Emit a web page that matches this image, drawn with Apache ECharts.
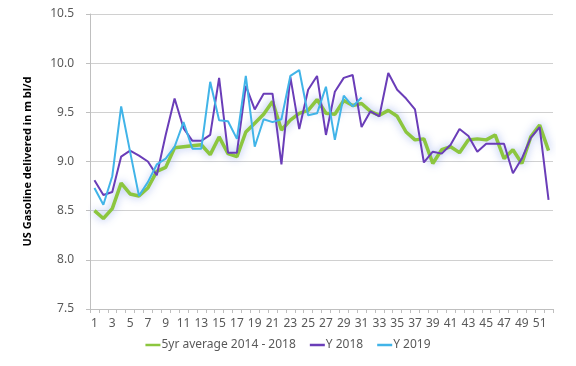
<!DOCTYPE html>
<html>
<head>
<meta charset="utf-8">
<script src="https://cdn.jsdelivr.net/npm/echarts@6/dist/echarts.min.js"></script>
<style>html,body{margin:0;padding:0;background:#fff}#c{width:576px;height:366px}</style>
</head>
<body>
<div id="c"></div>
<script>
const weeks = Array.from({length: 52}, (_, i) => String(i + 1));
const avg5yr = [8.50,8.42,8.52,8.78,8.67,8.65,8.73,8.90,8.94,9.14,9.15,9.16,9.17,9.07,9.25,9.08,9.05,9.30,
  9.39,9.48,9.61,9.32,9.42,9.49,9.52,9.63,9.49,9.48,9.62,9.57,9.59,9.51,9.47,9.52,9.46,9.30,
  9.22,9.23,8.98,9.12,9.15,9.09,9.22,9.23,9.22,9.27,9.03,9.12,8.98,9.25,9.37,9.11];
const y2018 = [8.81,8.66,8.69,9.05,9.11,9.06,9.00,8.86,9.27,9.64,9.34,9.21,9.21,9.27,9.85,9.09,9.09,9.77,
  9.53,9.69,9.69,8.97,9.86,9.33,9.73,9.87,9.27,9.71,9.85,9.88,9.35,9.51,9.46,9.90,9.73,9.64,
  9.53,8.99,9.10,9.08,9.17,9.33,9.26,9.10,9.18,9.18,9.18,8.88,9.03,9.24,9.35,8.61];
const y2019 = [8.73,8.56,8.85,9.56,9.10,8.65,8.79,8.97,9.03,9.15,9.40,9.13,9.13,9.81,9.42,9.41,9.23,9.87,
  9.15,9.43,9.40,9.43,9.87,9.93,9.47,9.49,9.76,9.22,9.67,9.56,9.65];
const yTicks = [7.5, 8.0, 8.5, 9.0, 9.5, 10.0, 10.5];

const font = 'Noto Sans';
const chart = echarts.init(document.getElementById('c'));
chart.setOption({
  animation: false,
  textStyle: {fontFamily: font},
  grid: {left: 90, right: 23, top: 14, bottom: 57},
  legend: {
    bottom: 10, left: 'center',
    icon: 'rect', itemWidth: 15, itemHeight: 2.5, itemGap: 14,
    textStyle: {color: '#595959', fontSize: 12, fontFamily: font, padding: [0, 0, 0, -4]},
    data: ['5yr average 2014 - 2018', 'Y 2018', 'Y 2019']
  },
  xAxis: {
    type: 'category', data: weeks, boundaryGap: true,
    axisLine: {lineStyle: {color: '#bfbfbf'}},
    axisTick: {show: true, interval: 0, length: 4, lineStyle: {color: '#bfbfbf'}},
    axisLabel: {interval: 1, color: '#595959', fontSize: 12, margin: 9}
  },
  yAxis: {
    type: 'value', min: yTicks[0], max: yTicks[yTicks.length - 1], interval: 0.5,
    name: 'US Gasoline delivered in m bl/d', nameLocation: 'middle', nameGap: 57,
    nameTextStyle: {color: '#000', fontSize: 11, fontWeight: 'bold', fontFamily: font},
    axisLine: {show: true, lineStyle: {color: '#bfbfbf'}},
    axisTick: {show: true, length: 4, lineStyle: {color: '#bfbfbf'}},
    splitLine: {lineStyle: {color: '#d0d0d0'}},
    axisLabel: {color: '#595959', fontSize: 12, margin: 16, formatter: v => v.toFixed(1)}
  },
  series: [
    {name: '5yr average 2014 - 2018', type: 'line', data: avg5yr, symbol: 'none',
     itemStyle: {color: '#8cc63f'},
     lineStyle: {color: '#8cc63f', width: 3.5, shadowBlur: 9, shadowColor: 'rgba(140,165,235,0.85)'}},
    {name: 'Y 2018', type: 'line', data: y2018, symbol: 'none',
     itemStyle: {color: '#6a3db8'}, lineStyle: {color: '#6a3db8', width: 2}},
    {name: 'Y 2019', type: 'line', data: y2019, symbol: 'none',
     itemStyle: {color: '#41b4e8'}, lineStyle: {color: '#41b4e8', width: 2}}
  ]
});
</script>
</body>
</html>
